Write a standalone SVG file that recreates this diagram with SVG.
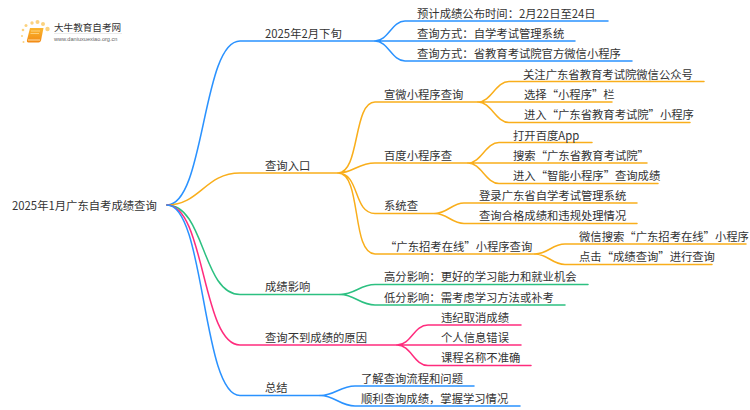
<svg xmlns="http://www.w3.org/2000/svg" width="750" height="410" viewBox="0 0 750 410">
<style>
text{font-family:"Noto Sans CJK SC","Liberation Sans",sans-serif;font-size:11.33px;fill:#333}
.c{fill:none;stroke-width:1.5;stroke-linecap:round}
.b{stroke:#2a92ff}.o{stroke:#f9ae1b}.g{stroke:#2cc081}.p{stroke:#ff2c7d}
</style>
<defs><linearGradient id="bk" x1="0" y1="0" x2="0" y2="1"><stop offset="0" stop-color="#fbb62e"/><stop offset="1" stop-color="#f28a14"/></linearGradient></defs>
<rect width="750" height="410" fill="#fff"/>
<g id="connectors">
<path class="c b" d="M167 205C205 205 202 41 240 41H375"/>
<path class="c b" d="M375 41C388 41 392 21 405 21H608M375 41H575M375 41C388 41 392 61 405 61H632"/>
<path class="c o" d="M167 205C200 205 205 173 240 173H338"/>
<path class="c o" d="M338 173C360 173 353 102 375 102H478M338 173C353 173 358 163 375 163H468M338 173C360 173 353 213.500 375 213.500H435M338 173C362 173 351 254 375 254H535"/>
<path class="c o" d="M478 102C491 102 496 81.500 509 81.500H704M478 102H612M478 102C491 102 496 122.500 509 122.500H690"/>
<path class="c o" d="M468 163C481 163 486 142.500 499 142.500H592M468 163H647M468 163C481 163 486 183.500 499 183.500H658"/>
<path class="c o" d="M435 213.500C447 213.500 452 203 464 203H637M435 213.500C447 213.500 452 223.500 464 223.500H637"/>
<path class="c o" d="M535 254C548 254 552 244 565 244H746M535 254C548 254 552 264.500 565 264.500H712"/>
<path class="c g" d="M167 205C205 205 202 294.500 240 294.500H340"/>
<path class="c g" d="M340 294.500C355 294.500 360 284.500 375 284.500H588M340 294.500C355 294.500 360 305 375 305H565"/>
<path class="c p" d="M167 205C205 205 202 345 240 345H397"/>
<path class="c p" d="M397 345C411 345 414 325 428 325H521M397 345H521M397 345C411 345 414 365.500 428 365.500H531"/>
<path class="c b" d="M167 205C205 205 202 395.500 240 395.500H320"/>
<path class="c b" d="M320 395.500C335 395.500 340 386 355 386H474M320 395.500C335 395.500 340 406 355 406H520"/>
</g>
<g id="logo">
<g fill="#fbd27f">
<circle cx="23" cy="30" r="1.300"/><circle cx="26" cy="25.500" r="1.500"/><circle cx="32" cy="23" r="1.700"/><circle cx="37.500" cy="22" r="2"/><circle cx="43" cy="24" r="2"/><circle cx="47.500" cy="29" r="2.200"/><circle cx="22" cy="36" r="1"/><circle cx="23.500" cy="42" r="1"/>
</g>
<path d="M30 28H43.500L41 40.500Q40.500 42.500 38.500 42.500H28.500Q26.500 42.500 27 40Z" fill="url(#bk)"/>
<path d="M28 40H40" stroke="#ffe7bd" stroke-width="0.900" fill="none"/>
<path d="M31 31H40M30.500 33.500H39" stroke="#ffd98f" stroke-width="0.800" fill="none"/>
<text x="54" y="30.500" style="font-size:9.600px">大牛教育自考网</text>
<path d="M54 33.500H122" stroke="#ddd" stroke-width="0.600"/>
<text x="54" y="41" style="font-size:5.600px;fill:#666;font-family:'Liberation Sans',sans-serif">www.daniuxuexiao.org.cn</text>
</g>
<g transform="translate(0,0.700)">
<g id="root"><text x="12" y="209">2025年1月广东自考成绩查询</text></g>
<g id="n1"><text x="265" y="37">2025年2月下旬</text></g>
<g id="n1a"><text x="417" y="17">预计成绩公布时间：2月22日至24日</text></g>
<g id="n1b"><text x="417" y="37">查询方式：自学考试管理系统</text></g>
<g id="n1c"><text x="417" y="57">查询方式：省教育考试院官方微信小程序</text></g>
<g id="n2"><text x="265" y="169">查询入口</text></g>
<g id="n21"><text x="384" y="98">宣微小程序查询</text></g>
<g id="n21a"><text x="523" y="78">关注广东省教育考试院微信公众号</text></g>
<g id="n21b"><text x="524" y="98">选择“小程序”栏</text></g>
<g id="n21c"><text x="524" y="118">进入“广东省教育考试院”小程序</text></g>
<g id="n22"><text x="384" y="159">百度小程序查</text></g>
<g id="n22a"><text x="513" y="139">打开百度App</text></g>
<g id="n22b"><text x="513" y="159">搜索“广东省教育考试院”</text></g>
<g id="n22c"><text x="513" y="179">进入“智能小程序”查询成绩</text></g>
<g id="n23"><text x="384" y="209.500">系统查</text></g>
<g id="n23a"><text x="479" y="199">登录广东省自学考试管理系统</text></g>
<g id="n23b"><text x="479" y="219.500">查询合格成绩和违规处理情况</text></g>
<g id="n24"><text x="385" y="250">“广东招考在线”小程序查询</text></g>
<g id="n24a"><text x="579" y="240">微信搜索“广东招考在线”小程序</text></g>
<g id="n24b"><text x="579" y="260">点击“成绩查询”进行查询</text></g>
<g id="n3"><text x="265" y="290">成绩影响</text></g>
<g id="n3a"><text x="384" y="280">高分影响：更好的学习能力和就业机会</text></g>
<g id="n3b"><text x="384" y="301">低分影响：需考虑学习方法或补考</text></g>
<g id="n4"><text x="265" y="341">查询不到成绩的原因</text></g>
<g id="n4a"><text x="441" y="321">违纪取消成绩</text></g>
<g id="n4b"><text x="441" y="341">个人信息错误</text></g>
<g id="n4c"><text x="441" y="361">课程名称不准确</text></g>
<g id="n5"><text x="265" y="391">总结</text></g>
<g id="n5a"><text x="361" y="382">了解查询流程和问题</text></g>
<g id="n5b"><text x="361" y="402">顺利查询成绩，掌握学习情况</text></g>
</g>
</svg>
